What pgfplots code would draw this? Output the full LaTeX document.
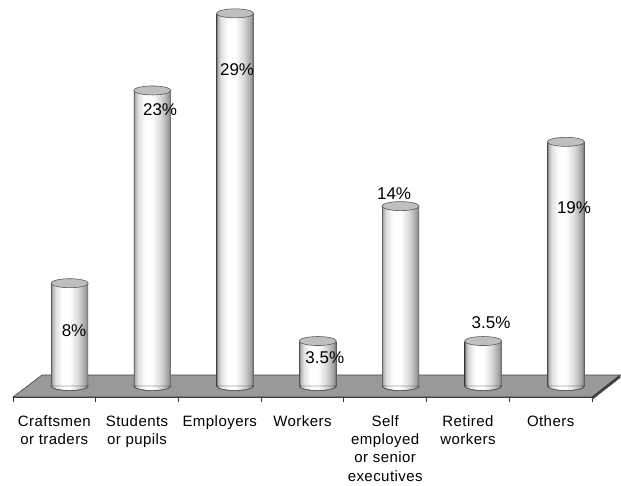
\documentclass[border=0pt]{standalone}
\usepackage{pgfplots}
\pgfplotsset{compat=1.18}
\usepackage{fontspec}
\setmainfont{Liberation Sans}
\newfontfamily\lblfont{Liberation Sans}[LetterSpace=3]

\pgfdeclarehorizontalshading{cyl}{100bp}{color(0bp)=(black!60); color(25bp)=(black!60); color(26.5bp)=(black!30); color(31bp)=(black!12); color(40bp)=(white); color(50bp)=(white); color(62bp)=(black!16); color(71bp)=(black!36); color(73.5bp)=(black!50); color(75bp)=(black!70); color(100bp)=(black!70)}

\pgfdeclareplotmark{cyltop}{\filldraw[fill=black!25, draw=black!65, line width=0.6pt] (0pt,0pt) ellipse[x radius=18.5pt, y radius=4.5pt];}
\pgfdeclareplotmark{cylbot}{\path[shade, shading=cyl] (-18.5pt,0pt) arc[start angle=180, end angle=360, x radius=18.5pt, y radius=4.5pt] -- cycle;
  \draw[black!60, line width=0.5pt] (-18.5pt,0pt) arc[start angle=180, end angle=360, x radius=18.5pt, y radius=4.5pt];}
\pgfdeclareplotmark{blank}{}

\begin{document}
\begin{tikzpicture}
\begin{axis}[
  scale only axis, width=579pt, height=397pt,
  xmin=-0.5, xmax=6.5, ymin=-0.856, ymax=30.04,
  clip=false,
  axis y line=none,
  axis x line*=bottom,
  x axis line style={-, black!80, line width=1pt},
  xtick={0,...,6},
  xticklabels={{Craftsmen\\or traders},{Students\\or pupils},{Employers},{Workers},{Self\\employed\\or senior\\executives},{Retired\\workers},{Others}},
  major x tick style={draw=none},
  major tick length=0pt,
  minor xtick={-0.5,0.5,...,6.5},
  minor tick length=5pt,
  tick align=outside,
  minor x tick style={black!80, line width=0.8pt},
  xticklabel style={font=\lblfont\fontsize{15}{18.2}\selectfont, align=center, anchor=north, yshift=-15pt},
]
% floor
\addplot[fill=black!40, draw=black!75, line width=0.6pt] coordinates {(-0.5,-0.856) (6.5,-0.856) (6.84,0.856) (-0.149,0.856)} -- cycle;
\addplot[fill=black!75, draw=black!75] coordinates {(6.5,-0.856) (6.84,0.856) (6.84,0.65) (6.5,-1.06)} -- cycle;
% cylinder bottoms
\addplot[only marks, mark=cylbot] coordinates {(0.185,0) (1.185,0) (2.185,0) (3.185,0) (4.185,0) (5.185,0) (6.185,0)};
% cylinder bodies
\addplot[ybar, bar width=37pt, bar shift=0pt, draw=none, shade, shading=cyl] coordinates {(0.185,8)};
\addplot[ybar, bar width=37pt, bar shift=0pt, draw=none, shade, shading=cyl] coordinates {(1.185,23)};
\addplot[ybar, bar width=37pt, bar shift=0pt, draw=none, shade, shading=cyl] coordinates {(2.185,29)};
\addplot[ybar, bar width=37pt, bar shift=0pt, draw=none, shade, shading=cyl] coordinates {(3.185,3.5)};
\addplot[ybar, bar width=37pt, bar shift=0pt, draw=none, shade, shading=cyl] coordinates {(4.185,14)};
\addplot[ybar, bar width=37pt, bar shift=0pt, draw=none, shade, shading=cyl] coordinates {(5.185,3.5)};
\addplot[ybar, bar width=37pt, bar shift=0pt, draw=none, shade, shading=cyl] coordinates {(6.185,19)};
% cylinder tops
\addplot[only marks, mark=cyltop] coordinates {(0.185,8) (1.185,23) (2.185,29) (3.185,3.5) (4.185,14) (5.185,3.5) (6.185,19)};
% value labels
\addplot[only marks, mark=blank, point meta=explicit symbolic, nodes near coords,
  every node near coord/.append style={anchor=center, font=\fontsize{17}{20}\selectfont, text=black}]
  coordinates {(0.238,4.28) [8\%] (1.278,21.5) [23\%] (2.209,24.6) [29\%] (3.27,2.18) [3.5\%] (4.107,15.0) [14\%] (5.28,4.94) [3.5\%] (6.283,13.85) [19\%]};
\end{axis}
\pgfresetboundingbox
\path (current axis.south west) ++(-13pt,-88pt) rectangle ++(621pt,485pt);
\end{tikzpicture}
\end{document}
